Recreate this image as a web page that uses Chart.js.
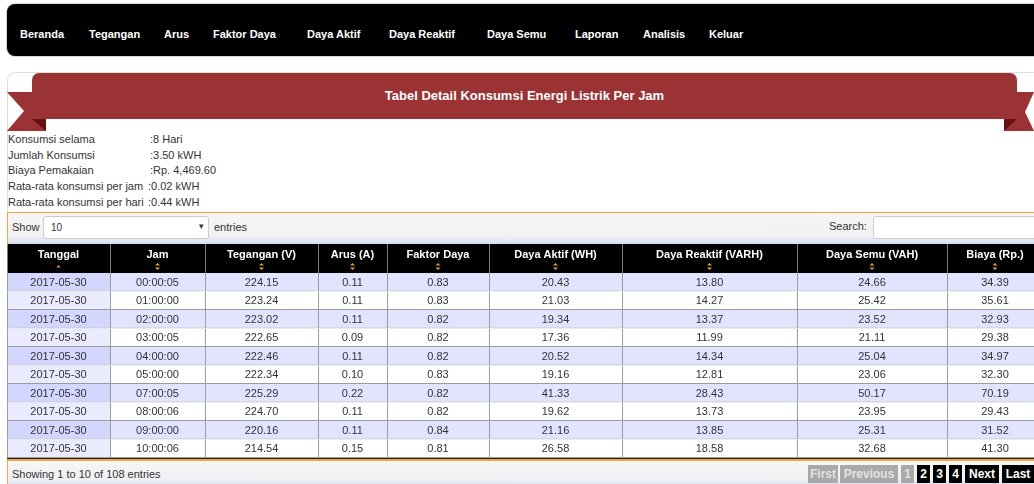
<!DOCTYPE html>
<html>
<head>
<meta charset="utf-8">
<script src="https://cdn.jsdelivr.net/npm/chart.js@4/dist/chart.umd.min.js"></script>
<style>
  body { margin: 0; width: 1034px; height: 484px; overflow: hidden; background: #fff; position: relative;
         font-family: "Liberation Sans", Arial, sans-serif; color: #333; }
  .abs { position: absolute; }
  .nav { left: 7px; top: 4px; width: 1040px; height: 52px; background: #000; border-radius: 8px; box-shadow: 0 0 0 1px #d8d8d8; }
  .nav span { position: absolute; top: 24px; font: bold 11px "Liberation Sans", Arial, sans-serif; color: #fff; line-height: 13px; white-space: nowrap; }
  .panel { left: 7px; top: 72px; width: 1040px; height: 430px; border: 1px solid #ddd; border-radius: 8px; }
  .band { left: 32px; top: 73px; width: 985px; height: 46px; background: #9b3234; border-radius: 7px 7px 0 0;
          color: #fff; font: bold 13px "Liberation Sans", Arial, sans-serif; line-height: 46px; text-align: center; }
  .info { font-size: 11px; line-height: 13px; white-space: nowrap; color: #333; }
  .bar { left: 7px; width: 1040px; border-left: 1px solid #f4a640;
         background: linear-gradient(#f6f6f6 0%, #f1f1f3 72%, #d3daf2 100%); }
  .txt { font-size: 11px; line-height: 13px; white-space: nowrap; }
  .box { background: #fff; border: 1px solid #ccc; border-radius: 3px; }
  .pg { top: 465px; height: 18px; font: bold 12px "Liberation Sans", Arial, sans-serif; line-height: 18px; text-align: center; }
  .off { background: #a9a9a9; color: #e2e2e2; }
  .on { background: #000; color: #fff; }
  canvas { position: absolute; }
</style>
</head>
<body>
<div class="abs nav">
  <span style="left:13px">Beranda</span>
  <span style="left:82px">Tegangan</span>
  <span style="left:157px">Arus</span>
  <span style="left:206px">Faktor Daya</span>
  <span style="left:300px">Daya Aktif</span>
  <span style="left:382px">Daya Reaktif</span>
  <span style="left:480px">Daya Semu</span>
  <span style="left:568px">Laporan</span>
  <span style="left:636px">Analisis</span>
  <span style="left:702px">Keluar</span>
</div>

<div class="abs panel"></div>
<svg class="abs" style="left:0;top:0" width="1034" height="140">
  <polygon points="7,92 46,92 46,131 7,131 24,111" fill="#9b3234"/>
  <polygon points="32,119 46,119 46,131" fill="#6b1012"/>
  <polygon points="1004,92 1034,92 1025,112 1034,131 1004,131" fill="#9b3234"/>
  <polygon points="1004,119 1017,119 1004,131" fill="#6b1012"/>
</svg>
<div class="abs band">Tabel Detail Konsumsi Energi Listrik Per Jam</div>

<div class="abs info" style="left:8px;top:133px">Konsumsi selama</div>
<div class="abs info" style="left:150px;top:133px">:8 Hari</div>
<div class="abs info" style="left:8px;top:149px">Jumlah Konsumsi</div>
<div class="abs info" style="left:150px;top:149px">:3.50 kWH</div>
<div class="abs info" style="left:8px;top:164px">Biaya Pemakaian</div>
<div class="abs info" style="left:150px;top:164px">:Rp. 4,469.60</div>
<div class="abs info" style="left:8px;top:180px">Rata-rata konsumsi per jam</div>
<div class="abs info" style="left:148px;top:180px">:0.02 kWH</div>
<div class="abs info" style="left:8px;top:196px">Rata-rata konsumsi per hari</div>
<div class="abs info" style="left:148px;top:196px">:0.44 kWH</div>

<div class="abs bar" style="top:212px;height:32px;border-top:1px solid #f4a640"></div>
<div class="abs txt" style="left:12px;top:221px">Show</div>
<div class="abs box" style="left:43px;top:216px;width:164px;height:21px"></div>
<div class="abs txt" style="left:51px;top:221px;font-size:10px">10</div>
<div class="abs txt" style="left:199px;top:220px;font-size:9px">&#9662;</div>
<div class="abs txt" style="left:214px;top:221px">entries</div>
<div class="abs txt" style="left:829px;top:220px">Search:</div>
<div class="abs box" style="left:873px;top:216px;width:170px;height:21px"></div>

<canvas id="head" width="1036" height="29" style="left:7px;top:244px"></canvas>
<canvas id="body" width="1036" height="185" style="left:7px;top:273px"></canvas>

<div class="abs" style="left:7px;top:458px;width:1040px;height:1px;background:#222"></div>
<div class="abs bar" style="top:459px;height:26px;border-top:2px solid #f4a640"></div>
<div class="abs txt" style="left:12px;top:468px">Showing 1 to 10 of 108 entries</div>
<div class="abs pg off" style="left:808px;width:30px">First</div>
<div class="abs pg off" style="left:840px;width:58px">Previous</div>
<div class="abs pg off" style="left:901px;width:13px">1</div>
<div class="abs pg on" style="left:917px;width:13px">2</div>
<div class="abs pg on" style="left:933px;width:13px">3</div>
<div class="abs pg on" style="left:949px;width:13px">4</div>
<div class="abs pg on" style="left:965px;width:34px">Next</div>
<div class="abs pg on" style="left:1002px;width:32px">Last</div>

<script>
// table content
const headers = ["Tanggal", "Jam", "Tegangan (V)", "Arus (A)", "Faktor Daya", "Daya Aktif (WH)", "Daya Reaktif (VARH)", "Daya Semu (VAH)", "Biaya (Rp.)"];
const tanggal = ["2017-05-30", "2017-05-30", "2017-05-30", "2017-05-30", "2017-05-30", "2017-05-30", "2017-05-30", "2017-05-30", "2017-05-30", "2017-05-30"];
const jam = ["00:00:05", "01:00:00", "02:00:00", "03:00:05", "04:00:00", "05:00:00", "07:00:05", "08:00:06", "09:00:00", "10:00:06"];
const tegangan = [224.15, 223.24, 223.02, 222.65, 222.46, 222.34, 225.29, 224.70, 220.16, 214.54];
const arus = [0.11, 0.11, 0.11, 0.09, 0.11, 0.10, 0.22, 0.11, 0.11, 0.15];
const faktorDaya = [0.83, 0.83, 0.82, 0.82, 0.82, 0.83, 0.82, 0.82, 0.84, 0.81];
const dayaAktif = [20.43, 21.03, 19.34, 17.36, 20.52, 19.16, 41.33, 19.62, 21.16, 26.58];
const dayaReaktif = [13.80, 14.27, 13.37, 11.99, 14.34, 12.81, 28.43, 13.73, 13.85, 18.58];
const dayaSemu = [24.66, 25.42, 23.52, 21.11, 25.04, 23.06, 50.17, 23.95, 25.31, 32.68];
const biaya = [34.39, 35.61, 32.93, 29.38, 34.97, 32.30, 70.19, 29.43, 31.52, 41.30];

// layout: column widths in px
const colWidths = [103, 95, 113, 69, 102, 133, 175, 150, 96];
const colStart = colWidths.map((w, i) => colWidths.slice(0, i).reduce((a, b) => a + b, 0));
const total = colWidths.reduce((a, b) => a + b, 0);

const fmt = (arr) => arr.map((v) => v.toFixed(2));
const columns = [tanggal, jam, fmt(tegangan), fmt(arus), fmt(faktorDaya), fmt(dayaAktif), fmt(dayaReaktif), fmt(dayaSemu), fmt(biaya)];
const rows = jam.map((j, i) => i);

// draws the text of every cell at the scale position of its column / row
const cellText = {
  id: "cellText",
  afterDatasetsDraw(chart, args, opts) {
    const { ctx, scales: { x, y } } = chart;
    ctx.save();
    ctx.font = opts.font;
    ctx.fillStyle = opts.color;
    ctx.textAlign = "center";
    ctx.textBaseline = "middle";
    opts.columns.forEach((col, c) => {
      const cx = x.getPixelForValue(colStart[c] + colWidths[c] / 2);
      col.forEach((v, r) => {
        const cy = y.getPixelForValue(r) + opts.dy;
        ctx.fillText(v, cx, cy);
        if (opts.icons) {
          // sort arrows under the header text
          const iy = y.getPixelForValue(r) + opts.iconDy;
          ctx.fillStyle = "#e99a2c";
          ctx.beginPath();
          if (c === 0) {
            ctx.moveTo(cx - 2, iy + 1); ctx.lineTo(cx + 2, iy + 1); ctx.lineTo(cx, iy - 1.5);
          } else {
            ctx.moveTo(cx - 2.5, iy - 1); ctx.lineTo(cx + 2.5, iy - 1); ctx.lineTo(cx, iy - 3.5);
            ctx.moveTo(cx - 2.5, iy + 1); ctx.lineTo(cx + 2.5, iy + 1); ctx.lineTo(cx, iy + 3.5);
          }
          ctx.fill();
          ctx.fillStyle = opts.color;
        }
      });
    });
    ctx.restore();
  },
};

function tableChart(el, labels, bg, border, textOpts) {
  return new Chart(el, {
    type: "bar",
    data: {
      labels: labels,
      datasets: headers.map((h, c) => ({
        label: h,
        data: labels.map(() => colWidths[c]),
        backgroundColor: (ctx) => bg(ctx.dataIndex, ctx.datasetIndex),
        borderColor: border,
        borderWidth: textOpts.borders,
        borderSkipped: false,
        inflateAmount: 0,
        barPercentage: 1,
        categoryPercentage: 1,
      })),
    },
    options: {
      indexAxis: "y",
      responsive: false,
      animation: false,
      events: [],
      layout: { padding: 0 },
      scales: {
        x: { type: "linear", stacked: true, min: 0, max: total, display: false },
        y: { stacked: true, display: false },
      },
      plugins: {
        legend: { display: false },
        tooltip: { enabled: false },
        cellText: textOpts,
      },
    },
    plugins: [cellText],
  });
}

tableChart(document.getElementById("head"), ["h"], () => "#000", "#7a7a7a", {
  columns: headers.map((h) => [h]),
  font: "bold 11px 'Liberation Sans', Arial, sans-serif",
  color: "#fff",
  dy: -4,
  icons: true,
  iconDy: 8,
  borders: { left: 1 },
});

tableChart(document.getElementById("body"), rows, (r, c) => {
  if (r % 2 === 0) return c === 0 ? "#d3d6ff" : "#e2e4ff";
  return c === 0 ? "#eaebff" : "#ffffff";
}, "#9c9c9c", {
  columns: columns,
  font: "11px 'Liberation Sans', Arial, sans-serif",
  color: "#333",
  dy: 0.5,
  icons: false,
  borders: { left: 1, bottom: 1 },
});
</script>
</body>
</html>
